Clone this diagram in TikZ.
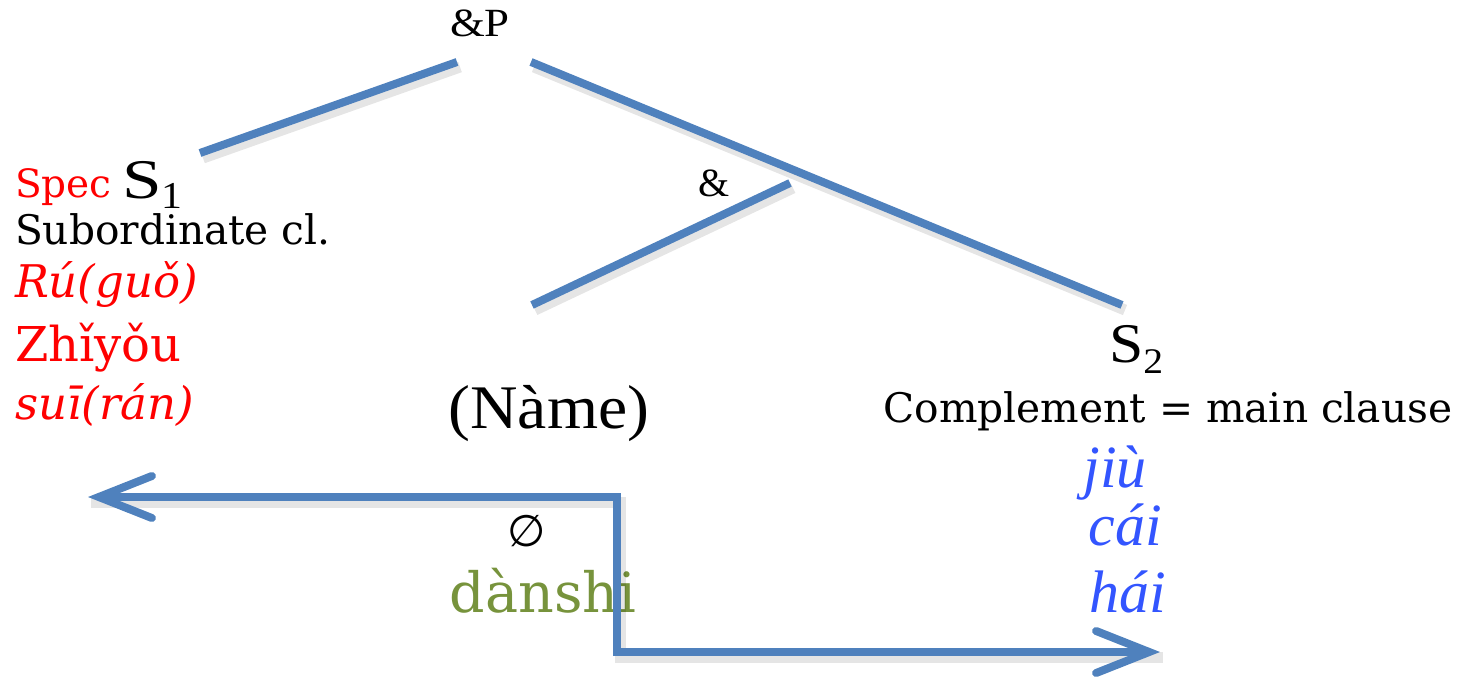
\documentclass[tikz,border=0pt]{standalone}
\usepackage{fontspec}
\setmainfont{Liberation Serif}
\newfontfamily\widefont{DejaVu Serif}
\newfontfamily\symfont{DejaVu Sans}
\usetikzlibrary{arrows.meta}
\definecolor{lineblue}{HTML}{4F81BD}
\definecolor{txtred}{HTML}{FF0000}
\definecolor{txtblue}{HTML}{3355FF}
\definecolor{txtgreen}{HTML}{77933C}
\newcommand{\fs}[1]{\fontsize{#1}{#1}\selectfont}
\newcommand{\stretchx}[2]{\scalebox{#1}[1]{#2}}
\begin{document}
\begin{tikzpicture}[x=1pt,y=-1pt,
  branch/.style={draw=lineblue, line width=8pt},
  shadowline/.style={draw=black, opacity=0.10, line width=11pt, transform canvas={shift={(3pt,-5pt)}}},
  lbl/.style={inner sep=0pt, outer sep=0pt},
  tnode/.style={lbl, font=\fs{40}},
  cat/.style={lbl, font=\fs{56}},
  wide/.style={lbl, font=\widefont\fs{40.7}},
  redit/.style={lbl, text=txtred, font=\widefont\itshape\fs{45}},
  redup/.style={lbl, text=txtred, font=\widefont\fs{48}},
  blueit/.style={lbl, text=txtblue, font=\itshape\fs{60}},
  barb/.tip={Straight Barb[length=53pt, width=42pt, line cap=round]},
  connector/.style={draw=lineblue, line width=8pt, line join=miter, {barb}-{barb}}
]
\useasboundingbox (0,0) rectangle (1459,677);

% labels
\node[tnode, anchor=base] (andP) at (480,37) {\stretchx{1.12}{\&P}};
\node[tnode, anchor=base] (amp) at (714,196) {\&};

\node[lbl, anchor=base west, text=txtred, font=\widefont\fs{39}] (spec) at (15,197) {Spec};
\node[cat, anchor=base west] (s1) at (122,198) {\stretchx{1.27}{S}\raisebox{-0.18em}{\stretchx{1.1}{\fs{38}1}}};
\node[wide, anchor=base west] (sub) at (15,244) {Subordinate cl.};
\node[redit, anchor=base west] (rug) at (15,297) {Rú(guǒ)};
\node[redup, anchor=base west] (zhi) at (15,361) {Zhǐyǒu};
\node[redit, anchor=base west] (sui) at (15,419) {suī(rán)};

\node[cat, font=\fs{62}, anchor=base] (name) at (549,428) {\stretchx{1.06}{(Nàme)}};

\node[cat, anchor=base west] (s2) at (1109,362) {\stretchx{1.1}{S\raisebox{-0.2em}{\fs{36}2}}};
\node[wide, anchor=base] (comp) at (1168,422) {Complement = main clause};
\node[blueit, anchor=base] (jiu) at (1115,487) {jiù};
\node[blueit, anchor=base] (cai) at (1125,545) {cái};
\node[blueit, anchor=base] (hai) at (1128,612) {hái};

\node[lbl, font=\symfont\fs{44}] (empty) at (527,531) {∅};
\node[lbl, anchor=base, text=txtgreen, font=\widefont\fs{55.5}] (dan) at (543,612) {dànshi};

% tree branch end points
\coordinate (a1) at (200,153);
\coordinate (a2) at (457,62);
\coordinate (b1) at (531,62);
\coordinate (b2) at (1122,305);
\coordinate (c1) at (532,305);
\coordinate (c2) at (790,183);
% connector points
\coordinate (p0) at (88,497);
\coordinate (p1) at (617,497);
\coordinate (p2) at (617,652);
\coordinate (p3) at (1160,652);

% shadows
\draw[shadowline] (a1) -- (a2);
\draw[shadowline] (b1) -- (b2);
\draw[shadowline] (c1) -- (c2);
\draw[shadowline] (p0) -- (p1) -- (p2) -- (p3);

% branches
\draw[branch] (a1) -- (a2);
\draw[branch] (b1) -- (b2);
\draw[branch] (c1) -- (c2);

% double arrow connector
\draw[connector] (p0) -- (p1) -- (p2) -- (p3);
\end{tikzpicture}
\end{document}
